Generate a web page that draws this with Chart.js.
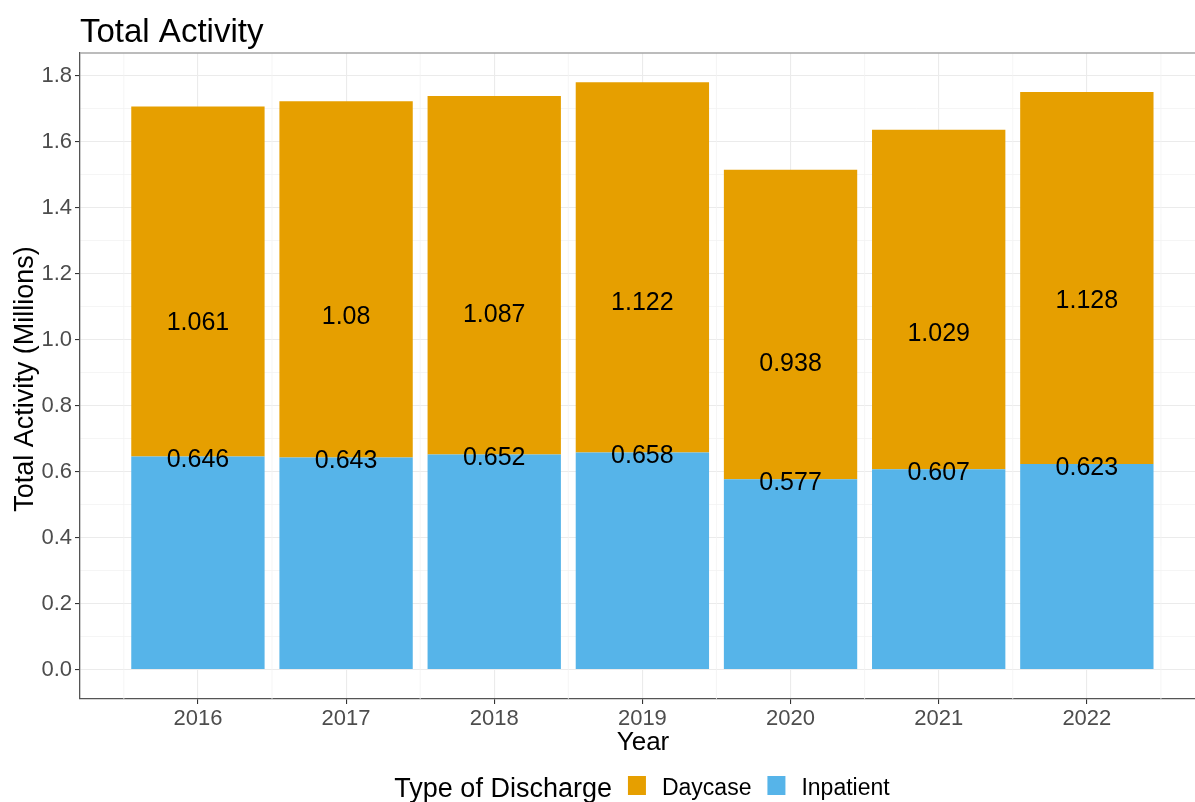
<!DOCTYPE html>
<html>
<head>
<meta charset="utf-8">
<script src="https://cdn.jsdelivr.net/npm/chart.js@4/dist/chart.umd.min.js"></script>
<style>
  html, body { margin: 0; padding: 0; background: #fff; overflow: hidden; }
  canvas { display: block; }
</style>
</head>
<body>
<canvas id="activityChart" width="1195" height="802"></canvas>
<script>
// values (millions)
const years = ['2016', '2017', '2018', '2019', '2020', '2021', '2022'];
const inpatient = [0.646, 0.643, 0.652, 0.658, 0.577, 0.607, 0.623];
const daycase = [1.061, 1.08, 1.087, 1.122, 0.938, 1.029, 1.128];
const yTicks = [0.0, 0.2, 0.4, 0.6, 0.8, 1.0, 1.2, 1.4, 1.6, 1.8];

const FONT = '"Liberation Sans", Arial, sans-serif';
const isMajorY = c => !c.tick || Math.round(c.tick.value * 10) % 2 === 0;

// minor vertical grid lines halfway between the years
const minorX = {
  id: 'minorX',
  beforeDatasetsDraw(chart) {
    const ctx = chart.ctx;
    const x = chart.scales.x;
    const area = chart.chartArea;
    ctx.save();
    ctx.strokeStyle = '#F3F3F3';
    ctx.lineWidth = 0.8;
    for (let i = 0; i <= years.length; i++) {
      const px = x.getPixelForValue(i + 0.5);
      if (px <= area.left || px >= area.right) continue;
      ctx.beginPath();
      ctx.moveTo(px, area.top);
      ctx.lineTo(px, area.bottom);
      ctx.stroke();
    }
    ctx.restore();
  }
};

// bar value labels, placed at the raw value (not the stacked one)
const valueLabels = {
  id: 'valueLabels',
  afterDatasetsDraw(chart) {
    const ctx = chart.ctx;
    const y = chart.scales.y;
    ctx.save();
    ctx.font = '25px ' + FONT;
    ctx.fillStyle = '#000';
    ctx.textAlign = 'center';
    ctx.textBaseline = 'middle';
    chart.data.datasets.forEach((ds, i) => {
      chart.getDatasetMeta(i).data.forEach((bar, j) => {
        const v = ds.data[j].y;
        ctx.fillText(String(v), bar.x, y.getPixelForValue(v) + 4);
      });
    });
    ctx.restore();
  }
};

// title, axis titles, top border and the inline legend
const decorations = {
  id: 'decorations',
  afterDraw(chart) {
    const ctx = chart.ctx;
    const area = chart.chartArea;
    ctx.save();

    ctx.strokeStyle = '#a6a6a6';
    ctx.lineWidth = 1.5;
    ctx.beginPath();
    ctx.moveTo(area.left, area.top);
    ctx.lineTo(area.right, area.top);
    ctx.stroke();

    ctx.fillStyle = '#000';
    ctx.textBaseline = 'alphabetic';
    ctx.font = '33px ' + FONT;
    ctx.textAlign = 'left';
    ctx.fillText('Total Activity', 80, 42);

    ctx.font = '26px ' + FONT;
    ctx.textAlign = 'center';
    ctx.fillText('Year', 643, 750);

    ctx.save();
    ctx.font = '27px ' + FONT;
    ctx.translate(33, (area.top + area.bottom) / 2 + 3);
    ctx.rotate(-Math.PI / 2);
    ctx.fillText('Total Activity (Millions)', 0, 0);
    ctx.restore();

    // legend
    const items = [['Daycase', '#E69F00'], ['Inpatient', '#56B4E9']];
    const title = 'Type of Discharge';
    ctx.font = '27px ' + FONT;
    const titleW = ctx.measureText(title).width;
    ctx.font = '23px ' + FONT;
    const box = 18, gapBox = 16, gapText = 16;
    let total = titleW;
    items.forEach(it => { total += gapBox + box + gapText + ctx.measureText(it[0]).width; });
    let x = 642 - total / 2;
    ctx.textAlign = 'left';
    ctx.font = '27px ' + FONT;
    ctx.fillText(title, x, 797);
    x += titleW;
    ctx.font = '23px ' + FONT;
    items.forEach(it => {
      x += gapBox;
      ctx.fillStyle = it[1];
      ctx.fillRect(x, 776, box, 19);
      x += box + gapText;
      ctx.fillStyle = '#000';
      ctx.fillText(it[0], x, 795);
      x += ctx.measureText(it[0]).width;
    });
    ctx.restore();
  }
};

const ctx = document.getElementById('activityChart').getContext('2d');
new Chart(ctx, {
  type: 'bar',
  data: {
    datasets: [{
      label: 'Inpatient',
      data: inpatient.map((v, i) => ({ x: i + 1, y: v })),
      backgroundColor: '#56B4E9'
    }, {
      label: 'Daycase',
      data: daycase.map((v, i) => ({ x: i + 1, y: v })),
      backgroundColor: '#E69F00'
    }]
  },
  options: {
    responsive: false,
    animation: false,
    devicePixelRatio: 1,
    barPercentage: 0.9,
    categoryPercentage: 1.0,
    layout: { padding: { top: 53, right: 0, bottom: 0, left: 0 } },
    plugins: {
      legend: { display: false },
      title: { display: false },
      tooltip: { enabled: false }
    },
    scales: {
      x: {
        type: 'linear',
        stacked: true,
        offset: false,
        min: 0.204,
        max: 7.73,
        afterBuildTicks(scale) {
          scale.ticks = years.map((y, i) => ({ value: i + 1 }));
        },
        afterFit(scale) { scale.height = 103; },
        ticks: {
          autoSkip: false,
          maxRotation: 0,
          padding: 2,
          color: '#4D4D4D',
          font: { family: FONT, size: 22 },
          callback: v => years[Math.round(v) - 1]
        },
        grid: {
          offset: false,
          color: '#EBEBEB',
          lineWidth: 1.1,
          tickColor: '#333333',
          tickLength: 5
        },
        border: { display: true, color: '#555555', width: 1.3 }
      },
      y: {
        type: 'linear',
        stacked: true,
        min: -0.089,
        max: 1.869,
        afterBuildTicks(scale) {
          const t = [];
          for (let i = 0; i <= 18; i++) t.push({ value: i / 10 });
          scale.ticks = t;
        },
        afterFit(scale) { scale.width = 80; },
        ticks: {
          autoSkip: false,
          padding: 3,
          color: '#4D4D4D',
          font: { family: FONT, size: 22 },
          callback: v => {
            const hit = yTicks.find(t => Math.abs(t - v) < 1e-6);
            return hit === undefined ? '' : hit.toFixed(1);
          }
        },
        grid: {
          color: c => isMajorY(c) ? '#EBEBEB' : '#F3F3F3',
          lineWidth: c => isMajorY(c) ? 1.1 : 0.8,
          tickColor: c => isMajorY(c) ? '#333333' : 'rgba(0,0,0,0)',
          tickLength: 5
        },
        border: { display: true, color: '#555555', width: 1.3 }
      }
    }
  },
  plugins: [minorX, valueLabels, decorations]
});
</script>
</body>
</html>
